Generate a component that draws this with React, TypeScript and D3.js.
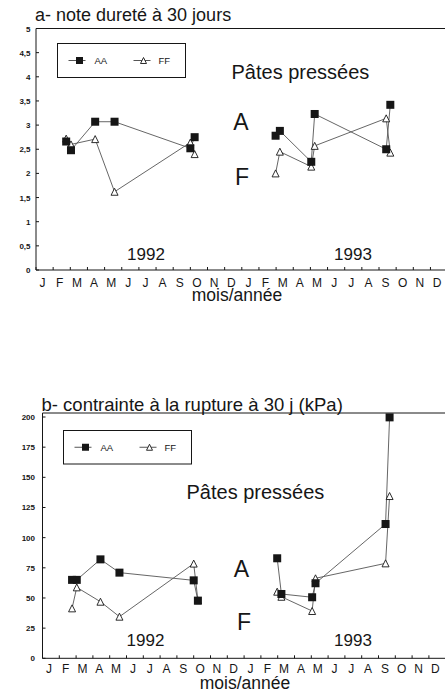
import React from "react";
import * as d3 from "d3";

// month letters for the two years on the x axis
const monthLetters = ["J", "F", "M", "A", "M", "J", "J", "A", "S", "O", "N", "D"];
const years = ["1992", "1993"];

// sampling dates, months since 1 Jan 1992 (shared by both panels)
const sampleMonths = [1.76, 2.04, 3.45, 4.58, 9.0, 9.25, 13.97, 14.22, 16.05, 16.25, 20.42, 20.66];
const sampleYear = [0, 0, 0, 0, 0, 0, 1, 1, 1, 1, 1, 1];

// a- note dureté à 30 jours
const hardAA = [2.66, 2.48, 3.07, 3.07, 2.52, 2.75, 2.78, 2.88, 2.24, 3.23, 2.5, 3.42];
const hardFF = [2.72, 2.6, 2.71, 1.62, 2.64, 2.4, 2.0, 2.45, 2.14, 2.57, 3.14, 2.43];
const hardTicks = [0, 0.5, 1, 1.5, 2, 2.5, 3, 3.5, 4, 4.5, 5];

// b- contrainte à la rupture à 30 j (kPa)
const ruptAA = [65, 65, 82, 71, 64.6, 47.8, 82.9, 53.3, 50.6, 62.2, 111.3, 199.7];
const ruptFF = [41.4, 58.8, 46.9, 34.5, 78.5, 48, 55.2, 51, 39.2, 66.3, 78.7, 134.5];
const ruptTicks = [0, 25, 50, 75, 100, 125, 150, 175, 200];

const FONT = "'Liberation Sans', Arial, Helvetica, sans-serif";
const INK = "#161616";
const LINE = "#555";

type Point = { m: number; v: number; yr: number };

const Square: React.FC<{ x: number; y: number; s?: number }> = ({ x, y, s = 8 }) => (
  <rect x={x - s / 2} y={y - s / 2} width={s} height={s} fill={INK} />
);

const Triangle: React.FC<{ x: number; y: number; s?: number }> = ({ x, y, s = 7 }) => (
  <path
    d={`M${x},${y - s / 2}L${x + s / 2},${y + s / 2}L${x - s / 2},${y + s / 2}Z`}
    fill="#fff"
    stroke={INK}
    strokeWidth={0.9}
  />
);

interface PanelProps {
  title: string;
  titleSize: number;
  aa: number[];
  ff: number[];
  ticks: number[];
  yMax: number;
  left: number;
  monthW: number;
  yTop: number;
  yBottom: number;
  frameTop: number;
  legend: { x: number; y: number; w: number; h: number };
  labels: {
    title: [number, number];
    pates: [number, number];
    a: [number, number];
    f: [number, number];
    years: [number, number, number];
    axisTitle: [number, number];
    months: number;
    yLabelX: number;
  };
}

const Panel: React.FC<PanelProps> = (p) => {
  const x = d3.scaleLinear().domain([0, 24]).range([p.left, p.left + p.monthW * 24]);
  const y = d3.scaleLinear().domain([0, p.yMax]).range([p.yBottom, p.yTop]);

  const toPts = (vals: number[]): Point[] =>
    vals.map((v, i) => ({ m: sampleMonths[i], v, yr: sampleYear[i] }));
  const line = d3
    .line<Point>()
    .x((d) => x(d.m))
    .y((d) => y(d.v));

  const aaPts = toPts(p.aa);
  const ffPts = toPts(p.ff);
  const byYear = (pts: Point[]) => [0, 1].map((yr) => pts.filter((d) => d.yr === yr));

  const fmt = (v: number) => String(v).replace(".", ",");
  const L = p.labels;
  const lg = p.legend;
  const lgY = lg.y + lg.h / 2;

  return (
    <g>
      <text x={L.title[0]} y={L.title[1]} fontSize={p.titleSize} fill={INK} fontFamily={FONT}>
        {p.title}
      </text>
      {/* frame */}
      <path
        d={`M${p.left},${p.yBottom}V${p.frameTop}H${x(24) + 4}`}
        fill="none"
        stroke={INK}
        strokeWidth={1}
      />
      <line x1={p.left} x2={x(24) + 4} y1={p.yBottom} y2={p.yBottom} stroke={INK} strokeWidth={1} />
      {/* y ticks */}
      {p.ticks.map((t) => (
        <g key={t}>
          <line x1={p.left} x2={p.left + 3} y1={y(t)} y2={y(t)} stroke={INK} />
          <text
            x={L.yLabelX}
            y={y(t) + 3}
            textAnchor="end"
            fontSize={8}
            fontWeight="bold"
            fill={INK}
            fontFamily={FONT}
          >
            {fmt(t)}
          </text>
        </g>
      ))}
      {/* x ticks and month letters */}
      {d3.range(25).map((k) => (
        <line key={k} x1={x(k)} x2={x(k)} y1={p.yBottom} y2={p.yBottom - 3} stroke={INK} />
      ))}
      {d3.range(24).map((k) => (
        <text
          key={k}
          x={x(k + 0.5) - 2}
          y={L.months}
          textAnchor="middle"
          fontSize={12}
          fill={INK}
          fontFamily={FONT}
        >
          {monthLetters[k % 12]}
        </text>
      ))}
      <text x={L.axisTitle[0]} y={L.axisTitle[1]} textAnchor="middle" fontSize={17.5} fill={INK} fontFamily={FONT}>
        mois/année
      </text>
      {/* annotations */}
      <text x={L.pates[0]} y={L.pates[1]} fontSize={20} fill={INK} fontFamily={FONT}>
        Pâtes pressées
      </text>
      <text x={L.a[0]} y={L.a[1]} textAnchor="middle" fontSize={23} fill={INK} fontFamily={FONT}>
        A
      </text>
      <text x={L.f[0]} y={L.f[1]} textAnchor="middle" fontSize={23} fill={INK} fontFamily={FONT}>
        F
      </text>
      {years.map((yr, i) => (
        <text
          key={yr}
          x={i === 0 ? L.years[0] : L.years[1]}
          y={L.years[2]}
          textAnchor="middle"
          fontSize={17}
          fill={INK}
          fontFamily={FONT}
        >
          {yr}
        </text>
      ))}
      {/* legend */}
      <rect x={lg.x} y={lg.y} width={lg.w} height={lg.h} fill="#fff" stroke={INK} strokeWidth={1} />
      <line x1={lg.x + 11} x2={lg.x + 28} y1={lgY} y2={lgY} stroke={LINE} />
      <Square x={lg.x + 22} y={lgY} s={7} />
      <text x={lg.x + 37} y={lgY + 3.5} fontSize={9.5} fill={INK} fontFamily={FONT}>
        AA
      </text>
      <line x1={lg.x + 76} x2={lg.x + 93} y1={lgY} y2={lgY} stroke={LINE} />
      <Triangle x={lg.x + 86} y={lgY} s={6} />
      <text x={lg.x + 101} y={lgY + 3.5} fontSize={9.5} fill={INK} fontFamily={FONT}>
        FF
      </text>
      {/* series */}
      {byYear(ffPts).map((seg, i) => (
        <path key={"ff" + i} d={line(seg) ?? ""} fill="none" stroke={LINE} strokeWidth={0.9} />
      ))}
      {byYear(aaPts).map((seg, i) => (
        <path key={"aa" + i} d={line(seg) ?? ""} fill="none" stroke={LINE} strokeWidth={0.9} />
      ))}
      {ffPts.map((d, i) => (
        <Triangle key={"tf" + i} x={x(d.m)} y={y(d.v)} />
      ))}
      {aaPts.map((d, i) => (
        <Square key={"sa" + i} x={x(d.m)} y={y(d.v)} />
      ))}
    </g>
  );
};

export default function App() {
  return (
    <svg
      width={445}
      height={690}
      style={{ position: "absolute", left: 0, top: 0, background: "#fff" }}
    >
      <rect width={445} height={690} fill="#fff" />
      <Panel
        title="a- note dureté à 30 jours"
        titleSize={18}
        aa={hardAA}
        ff={hardFF}
        ticks={hardTicks}
        yMax={5}
        left={36}
        monthW={17.15}
        yTop={28.5}
        yBottom={270}
        frameTop={28.5}
        legend={{ x: 57.5, y: 43.5, w: 128, h: 34 }}
        labels={{
          title: [35, 21],
          pates: [231.5, 78.5],
          a: [241, 130],
          f: [242, 185],
          years: [146, 353, 259.5],
          axisTitle: [237, 301],
          months: 286.5,
          yLabelX: 30.5,
        }}
      />
      <Panel
        title="b- contrainte à la rupture à 30 j (kPa)"
        titleSize={18.5}
        aa={ruptAA}
        ff={ruptFF}
        ticks={ruptTicks}
        yMax={200}
        left={42.5}
        monthW={16.8}
        yTop={417}
        yBottom={658.3}
        frameTop={413}
        legend={{ x: 63.5, y: 430.5, w: 128, h: 33.5 }}
        labels={{
          title: [41.5, 410.5],
          pates: [186.5, 498.5],
          a: [241.5, 576.5],
          f: [244, 629.5],
          years: [145.5, 353, 645.5],
          axisTitle: [245, 688.5],
          months: 672.5,
          yLabelX: 35,
        }}
      />
    </svg>
  );
}
